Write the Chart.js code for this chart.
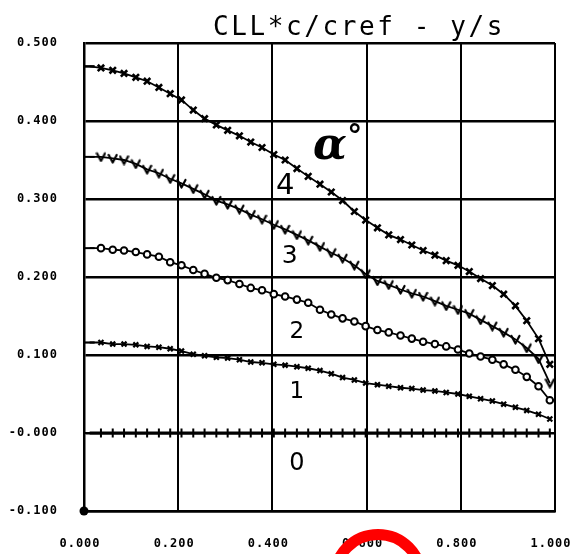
<!DOCTYPE html>
<html><head><meta charset="utf-8">
<script src="https://cdn.jsdelivr.net/npm/chart.js@4.4.1/dist/chart.umd.min.js"></script>
<style>html,body{margin:0;padding:0;background:#fff;}#wrap{width:576px;height:554px;}</style>
</head><body><div id="wrap"><canvas id="c" width="576" height="554"></canvas></div>
<script>
const titleText = 'CLL*c/cref - y/s';
const xTickLabels = ['0.000','0.200','0.400','0.600','0.800','1.000'];
const yTickLabels = ['-0.100','-0.000','0.100','0.200','0.300','0.400','0.500'];
const curveLabels = ['0','1','2','3','4'];
const stations = [0.012,0.036,0.061,0.085,0.110,0.134,0.159,0.183,0.207,0.232,0.256,0.281,0.305,0.330,0.354,0.378,0.403,0.427,0.452,0.476,0.501,0.525,0.549,0.574,0.598,0.623,0.647,0.672,0.696,0.720,0.745,0.769,0.794,0.818,0.842,0.867,0.891,0.916,0.940,0.965,0.989];
const alpha0 = [0,0,0,0,0,0,0,0,0,0,0,0,0,0,0,0,0,0,0,0,0,0,0,0,0,0,0,0,0,0,0,0,0,0,0,0,0,0,0,0,0];
const alpha1 = [0.116,0.116,0.114,0.114,0.113,0.111,0.110,0.108,0.105,0.101,0.099,0.097,0.096,0.094,0.091,0.090,0.088,0.087,0.085,0.083,0.080,0.076,0.071,0.068,0.064,0.062,0.060,0.058,0.057,0.055,0.054,0.052,0.050,0.047,0.044,0.041,0.037,0.033,0.029,0.024,0.018];
const alpha2 = [0.237,0.237,0.235,0.234,0.232,0.229,0.226,0.219,0.215,0.209,0.204,0.199,0.196,0.191,0.186,0.183,0.178,0.175,0.171,0.167,0.158,0.152,0.147,0.143,0.137,0.132,0.129,0.125,0.121,0.117,0.114,0.111,0.107,0.102,0.098,0.094,0.088,0.081,0.072,0.060,0.042];
const alpha3 = [0.354,0.354,0.352,0.350,0.345,0.338,0.333,0.326,0.320,0.313,0.306,0.298,0.293,0.287,0.280,0.274,0.267,0.261,0.254,0.247,0.239,0.231,0.224,0.215,0.204,0.195,0.190,0.184,0.179,0.175,0.169,0.163,0.158,0.153,0.145,0.137,0.129,0.120,0.109,0.095,0.064];
const alpha4 = [0.470,0.468,0.465,0.461,0.456,0.451,0.443,0.435,0.427,0.414,0.403,0.395,0.388,0.381,0.373,0.366,0.357,0.350,0.339,0.329,0.319,0.309,0.298,0.284,0.273,0.263,0.254,0.248,0.241,0.234,0.228,0.221,0.215,0.207,0.198,0.189,0.178,0.163,0.144,0.121,0.088];

function pts(vals){ return stations.map((s,i)=>({x:s,y:vals[i]})); }
function makeV(){
  const c=document.createElement('canvas'); c.width=11; c.height=11;
  const g=c.getContext('2d'); g.strokeStyle='#000'; g.lineWidth=2.2; g.lineCap='round'; g.lineJoin='round';
  g.beginPath(); g.moveTo(1.5,2); g.lineTo(5.5,9.5); g.lineTo(9.5,2); g.stroke();
  return c;
}
const vImg = makeV();
function firstDash(style){ return (ctx)=> ctx.dataIndex===0 ? 'line' : style; }
function ds(vals, style, radius, bw, lw, bg){
  return {data:pts(vals), borderColor:'#000', borderWidth:lw, pointStyle:firstDash(style),
    pointRadius:(ctx)=>ctx.dataIndex===0?5:radius, pointBorderWidth:bw, pointBorderColor:'#000',
    pointBackgroundColor:bg||'#000', tension:0, fill:false};
}

const annot = {
  id:'annot',
  beforeDraw(chart){ try{ chart.ctx.letterSpacing='1px'; }catch(e){} },
  afterDraw(chart){
    const ctx=chart.ctx, xs=chart.scales.x, ys=chart.scales.y;
    ctx.save();
    try{ ctx.letterSpacing='0px'; }catch(e){}
    ctx.fillStyle='#000';
    // origin dot
    ctx.beginPath(); ctx.arc(xs.getPixelForValue(0), ys.getPixelForValue(-0.1), 4.5, 0, 2*Math.PI); ctx.fill();
    // curve labels (handwritten-like)
    ctx.textAlign='center'; ctx.textBaseline='middle';
    const lp = [[0.452,-0.039,24],[0.452,0.053,23],[0.452,0.130,23],[0.437,0.226,25],[0.427,0.316,29]];
    curveLabels.forEach((t,i)=>{ const p=lp[i]; ctx.font=p[2]+'px "DejaVu Sans"'; ctx.fillText(t, xs.getPixelForValue(p[0]), ys.getPixelForValue(p[1])); });
    ctx.font='italic bold 44px "DejaVu Serif"';
    ctx.fillText('\u03b1', xs.getPixelForValue(0.522), ys.getPixelForValue(0.366));
    ctx.font='bold 30px "DejaVu Sans"';
    ctx.fillText('\u00b0', xs.getPixelForValue(0.575), ys.getPixelForValue(0.378));
    // title
    ctx.font='26px "DejaVu Sans Mono"'; ctx.textAlign='left'; ctx.textBaseline='alphabetic';
    try{ ctx.letterSpacing='2.6px'; }catch(e){}
    ctx.fillText(titleText, 213, 35);
    try{ ctx.letterSpacing='0px'; }catch(e){}
    // red pen mark at bottom
    ctx.strokeStyle='#ff0000'; ctx.lineWidth=11;
    ctx.beginPath(); ctx.arc(378,578,43.5,0,2*Math.PI); ctx.stroke();
    ctx.restore();
  }
};

new Chart(document.getElementById('c'), {
  type:'line',
  data:{ datasets:[
    ds(alpha0,'cross',4.5,2,3),
    ds(alpha1,'crossRot',3.5,2.2,1.8),
    ds(alpha2,'circle',3.3,2,1.8,'#fff'),
    ds(alpha3,vImg,5,2,1.8),
    ds(alpha4,'crossRot',4.5,2.6,1.8)
  ]},
  options:{
    responsive:false, animation:false, devicePixelRatio:1,
    layout:{padding:{top:43,right:21,left:0,bottom:0}},
    plugins:{legend:{display:false}, tooltip:{enabled:false}, title:{display:false}},
    scales:{
      x:{type:'linear', min:0, max:1,
        afterFit:(s)=>{s.height=43; s.paddingLeft=0; s.paddingRight=0;},
        ticks:{stepSize:0.2, color:'#000', padding:26, labelOffset:-4, maxRotation:0,
          font:{family:'"DejaVu Sans Mono"', size:12, weight:'bold'},
          callback:(v,i)=>xTickLabels[i]},
        grid:{color:'#000', lineWidth:2, drawTicks:false},
        border:{color:'#000', width:2.5}
      },
      y:{type:'linear', min:-0.1, max:0.5,
        afterFit:(s)=>{s.width=84; s.paddingTop=0; s.paddingBottom=0;},
        ticks:{stepSize:0.1, color:'#000', padding:26,
          font:{family:'"DejaVu Sans Mono"', size:12, weight:'bold'},
          callback:(v,i)=>yTickLabels[i]},
        grid:{color:'#000', lineWidth:2.5, drawTicks:false},
        border:{color:'#000', width:2.5}
      }
    }
  },
  plugins:[annot]
});
</script>
</body></html>
